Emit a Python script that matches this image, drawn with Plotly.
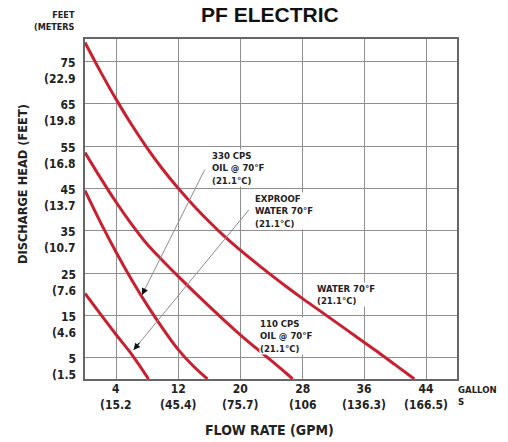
import plotly.graph_objects as go

# ---- data ----
water_x = [0, 2, 4, 6, 8, 10, 12, 14, 16, 18, 20, 22, 24, 26, 28, 30, 32, 34, 36, 38, 40, 42.5]
water_y = [79.5, 72.6, 66.1, 60.1, 54.6, 49.6, 45.1, 41, 37.2, 33.7, 30.5, 27.5, 24.6, 21.8, 19.1, 16.5, 13.9, 11.3, 8.7, 6.1, 3.4, 0]

oil110_x = [0, 2, 4, 6, 8, 10, 12, 14, 16, 18, 20, 22, 24, 26, 26.8]
oil110_y = [53.5, 47.5, 41.8, 36.6, 31.9, 28, 24.3, 20.7, 17.2, 13.8, 10.5, 7.4, 4.4, 1.3, 0]

oil330_x = [0, 2, 4, 6, 8, 10, 12, 14, 15.8]
oil330_y = [44.5, 37, 30, 23.5, 17.5, 12, 7, 3, 0]

exproof_x = [0, 2, 4, 6, 8.2]
exproof_y = [20.2, 15.3, 10.5, 5.9, 0]

x_ticks = [4, 12, 20, 28, 36, 44]
x_tick_gpm = ["4", "12", "20", "28", "36", "44"]
x_tick_lpm = ["(15.2", "(45.4)", "(75.7)", "(106", "(136.3)", "(166.5)"]
y_ticks = [5, 15, 25, 35, 45, 55, 65, 75]
y_tick_feet = ["5", "15", "25", "35", "45", "55", "65", "75"]
y_tick_meters = ["(1.5", "(4.6", "(7.6", "(10.7", "(13.7", "(16.8", "(19.8", "(22.9"]

curve_labels = ["330 CPS<br>OIL @ 70°F<br>(21.1°C)", "EXPROOF<br>WATER 70°F<br>(21.1°C)",
                "WATER 70°F<br>(21.1°C)", "110 CPS<br>OIL @ 70°F<br>(21.1°C)"]
label_x = [16.2, 21.85, 29.85, 22.5]
label_y = [49.9, 39.7, 19.85, 10.2]

# pointer arrows: tip (x, y) and tail (x, y)
arrow_tip_x = [7.35, 6.27]
arrow_tip_y = [19.85, 6.86]
arrow_tail_x = [15.55, 21.3]
arrow_tail_y = [49.8, 40.3]

RED = "#C8202F"
FONT = "DejaVu Sans Condensed, Liberation Sans Narrow, Arial Narrow, sans-serif"
L, R, T, B, W, H = 85, 51, 39, 63, 508, 442
PW, PH = W - L - R, H - T - B


def px(xp):
    return (xp - L) / PW


def py(yp):
    return (H - B - yp) / PH


fig = go.Figure()
for xs, ys in [(water_x, water_y), (oil110_x, oil110_y), (oil330_x, oil330_y), (exproof_x, exproof_y)]:
    fig.add_trace(go.Scatter(x=xs, y=ys, mode="lines", line=dict(color=RED, width=3, shape="spline"),
                             showlegend=False, hoverinfo="skip"))

annotations = []
tick_font = dict(family=FONT, size=12, color="#222")
for v, f, m in zip(y_ticks, y_tick_feet, y_tick_meters):
    annotations.append(dict(x=0, y=v, xref="paper", yref="y", text="<b>" + f + "<br>" + m + "</b>",
                            showarrow=False, xanchor="right", yanchor="middle", align="right",
                            xshift=-7, yshift=-9.5, font=tick_font))
for v, g, lp in zip(x_ticks, x_tick_gpm, x_tick_lpm):
    annotations.append(dict(x=v, y=0, xref="x", yref="paper", text="<b>" + g + "<br>" + lp + "</b>",
                            showarrow=False, xanchor="center", yanchor="middle", align="center",
                            yshift=-18, font=tick_font))

for tx, ty, sx, sy in zip(arrow_tip_x, arrow_tip_y, arrow_tail_x, arrow_tail_y):
    # gray shaft
    annotations.append(dict(x=tx, y=ty, ax=sx, ay=sy, xref="x", yref="y", axref="x", ayref="y",
                            showarrow=True, arrowhead=0, arrowwidth=1, arrowcolor="#8c8c8c", text=""))
    # small dark head
    annotations.append(dict(x=tx, y=ty, ax=tx + (sx - tx) * 0.06, ay=ty + (sy - ty) * 0.06,
                            xref="x", yref="y", axref="x", ayref="y",
                            showarrow=True, arrowhead=2, arrowsize=1.1, arrowwidth=1.2,
                            arrowcolor="#111", text=""))

for lx, ly, t in zip(label_x, label_y, curve_labels):
    annotations.append(dict(x=lx, y=ly, xref="x", yref="y", text="<b>" + t + "</b>", showarrow=False,
                            xanchor="left", yanchor="middle", align="left", bgcolor="white",
                            borderpad=0, font=dict(family=FONT, size=9.5, color="#222")))

annotations += [
    dict(x=px(77), y=py(21), xref="paper", yref="paper", text="<b>FEET<br>(METERS</b>",
         showarrow=False, xanchor="right", yanchor="middle", align="right",
         font=dict(family=FONT, size=9, color="#222")),
    dict(x=px(22), y=py(184), xref="paper", yref="paper", text="<b>DISCHARGE HEAD (FEET)</b>",
         showarrow=False, textangle=-90, xanchor="center", yanchor="middle",
         font=dict(family=FONT, size=12.7, color="#222")),
    dict(x=px(456), y=py(395), xref="paper", yref="paper", text="<b>GALLON<br>S</b>",
         showarrow=False, xanchor="left", yanchor="middle", align="left",
         font=dict(family=FONT, size=9.5, color="#222")),
    dict(x=px(269), y=py(430.5), xref="paper", yref="paper", text="<b>FLOW RATE (GPM)</b>",
         showarrow=False, xanchor="center", yanchor="middle",
         font=dict(family=FONT, size=14, color="#222")),
    dict(x=px(269.5), y=py(14), xref="paper", yref="paper", text="<b>PF ELECTRIC</b>",
         showarrow=False, xanchor="center", yanchor="middle",
         font=dict(family="Liberation Sans, Arial, sans-serif", size=21, color="#111")),
]

fig.update_layout(
    width=W, height=H,
    margin=dict(l=L, r=R, t=T, b=B, autoexpand=False),
    paper_bgcolor="white", plot_bgcolor="white",
    annotations=annotations,
    xaxis=dict(range=[0, 48], tickvals=x_ticks, showticklabels=False, automargin=False,
               showgrid=True, gridcolor="#8f8f8f", gridwidth=1, zeroline=False,
               showline=True, linecolor="#666", linewidth=1.6, mirror=True, ticks="",
               fixedrange=True),
    yaxis=dict(range=[0, 80.3], tickvals=y_ticks, showticklabels=False, automargin=False,
               showgrid=True, gridcolor="#8f8f8f", gridwidth=1, zeroline=False,
               showline=True, linecolor="#666", linewidth=1.6, mirror=True, ticks="",
               fixedrange=True),
)

fig.write_html("out.html", config={"displayModeBar": False, "staticPlot": True})
with open("out.html", encoding="utf-8") as fh:
    page = fh.read()
page = page.replace("<body>", '<body style="margin:0;padding:0;overflow:hidden">', 1)
with open("out.html", "w", encoding="utf-8") as fh:
    fh.write(page)
